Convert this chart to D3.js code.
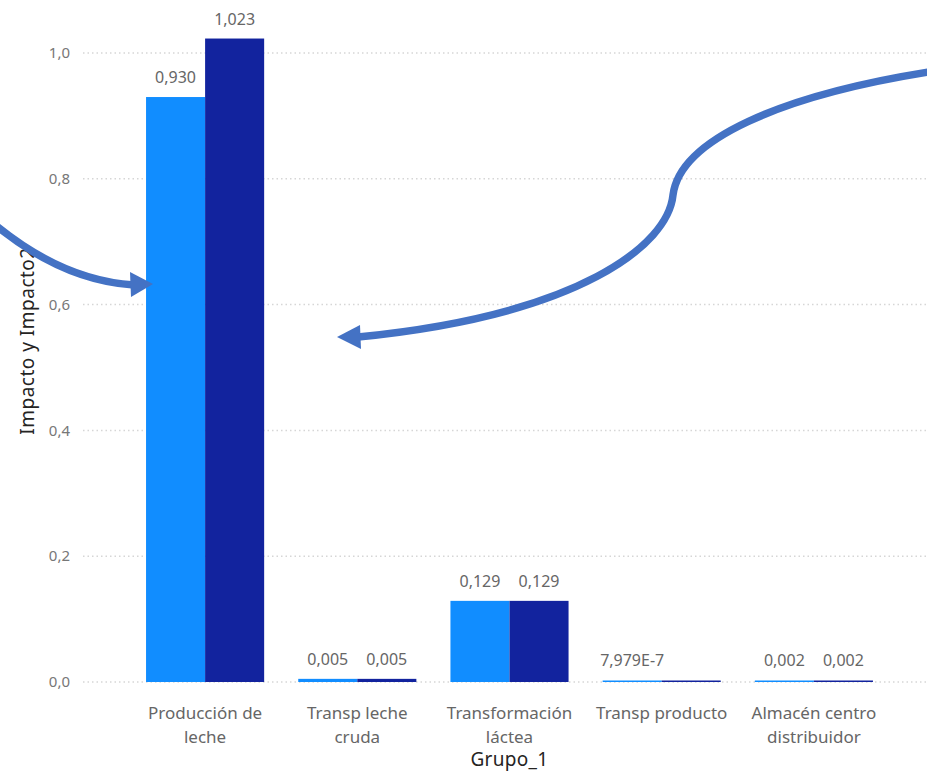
<!DOCTYPE html>
<html>
<head>
<meta charset="utf-8">
<script src="https://cdn.jsdelivr.net/npm/d3@7"></script>
<style>
  body { margin: 0; background: #fff; }
  svg text { font-family: "Noto Sans", "Open Sans", sans-serif; }
</style>
</head>
<body>
<svg id="chart" width="927" height="771"></svg>
<script>
const width = 927, height = 771;
const svg = d3.select("#chart");

// data
const categories = [
  "Producción de\nleche",
  "Transp leche\ncruda",
  "Transformación\nláctea",
  "Transp producto",
  "Almacén centro\ndistribuidor"
];
const series = ["Impacto", "Impacto2"];
const impacto  = [0.930, 0.005, 0.129, 7.979e-7, 0.002];
const impacto2 = [1.023, 0.005, 0.129, 7.979e-7, 0.002];
const valueLabels1 = ["0,930", "0,005", "0,129", "7,979E-7", "0,002"];
const valueLabels2 = ["1,023", "0,005", "0,129", "", "0,002"]; // PBI hides the overlapping one
const yTicks = [0, 0.2, 0.4, 0.6, 0.8, 1.0];

const colors = { "Impacto": "#118DFF", "Impacto2": "#12239E" };

// scales
const x = d3.scaleBand()
  .domain(categories)
  .range([129, 890])
  .paddingInner(0.224)
  .paddingOuter(0.112);

const xs = d3.scaleBand()
  .domain(series)
  .range([0, x.bandwidth()]);

const y = d3.scaleLinear()
  .domain([0, 1])
  .range([682, 53]);

const locale = d3.formatLocale({ decimal: ",", thousands: ".", grouping: [3], currency: ["", ""] });
const fmt = locale.format(".1f");

// gridlines
svg.append("g")
  .selectAll("line")
  .data(yTicks)
  .join("line")
    .attr("x1", 83).attr("x2", width)
    .attr("y1", d => y(d)).attr("y2", d => y(d))
    .attr("stroke", "#d6d6d6")
    .attr("stroke-width", 1.5)
    .attr("stroke-dasharray", "1.5 3");

// y tick labels
svg.append("g")
  .selectAll("text")
  .data(yTicks)
  .join("text")
    .attr("x", 70)
    .attr("y", d => y(d))
    .attr("dy", "0.35em")
    .attr("text-anchor", "end")
    .attr("font-size", 15)
    .attr("fill", "#777")
    .text(d => fmt(d));

// bars
const rows = categories.map((c, i) => ({
  cat: c,
  vals: [
    { key: "Impacto", v: impacto[i], label: valueLabels1[i] },
    { key: "Impacto2", v: impacto2[i], label: valueLabels2[i] }
  ]
}));

const groups = svg.append("g")
  .selectAll("g")
  .data(rows)
  .join("g")
    .attr("transform", d => `translate(${x(d.cat)},0)`);

groups.selectAll("rect")
  .data(d => d.vals)
  .join("rect")
    .attr("x", d => xs(d.key))
    .attr("width", xs.bandwidth())
    .attr("y", d => Math.min(y(d.v), y(0) - 1.5))
    .attr("height", d => Math.max(y(0) - y(d.v), 1.5))
    .attr("fill", d => colors[d.key]);

groups.selectAll("text")
  .data(d => d.vals)
  .join("text")
    .attr("x", d => xs(d.key) + xs.bandwidth() / 2)
    .attr("y", d => Math.min(y(d.v), y(0) - 2) - 14)
    .attr("text-anchor", "middle")
    .attr("font-size", 16)
    .attr("fill", "#666")
    .text(d => d.label);

// x axis labels
const xl = svg.append("g")
  .selectAll("text")
  .data(categories)
  .join("text")
    .attr("x", d => x(d) + x.bandwidth() / 2)
    .attr("y", 719)
    .attr("text-anchor", "middle")
    .attr("font-size", 17)
    .attr("fill", "#666");

xl.selectAll("tspan")
  .data(d => d.split("\n"))
  .join("tspan")
    .attr("x", function() { return d3.select(this.parentNode).attr("x"); })
    .attr("dy", (d, i) => i === 0 ? 0 : 24)
    .text(d => d);

// axis titles
svg.append("text")
  .attr("x", (x.range()[0] + x.range()[1]) / 2)
  .attr("y", 766)
  .attr("text-anchor", "middle")
  .attr("font-family", "Roboto, sans-serif")
  .attr("font-size", 19)
  .attr("letter-spacing", 0.3)
  .attr("fill", "#252423")
  .text("Grupo_1");

svg.append("text")
  .attr("transform", "translate(34,341) rotate(-90)")
  .attr("text-anchor", "middle")
  .attr("font-family", "Roboto, sans-serif")
  .attr("font-size", 19)
  .attr("letter-spacing", 0.5)
  .attr("fill", "#252423")
  .text("Impacto y Impacto2");

// annotation arrows
const arrowColor = "#4472C4";
const arrows = [
  { path: "M-6,224 C40,262 85,282 134,285", head: [[153,284],[130,272],[131,297]] },
  { path: "M935,71 C780,95 680,140 673,195 C668,245 580,315 358,337", head: [[337,337],[360,325],[361,349]] }
];

const ann = svg.append("g");
ann.selectAll("path.arc")
  .data(arrows)
  .join("path")
    .attr("class", "arc")
    .attr("d", d => d.path)
    .attr("fill", "none")
    .attr("stroke", arrowColor)
    .attr("stroke-width", 7.5);

ann.selectAll("polygon")
  .data(arrows)
  .join("polygon")
    .attr("points", d => d.head.map(p => p.join(",")).join(" "))
    .attr("fill", arrowColor);
</script>
</body>
</html>
